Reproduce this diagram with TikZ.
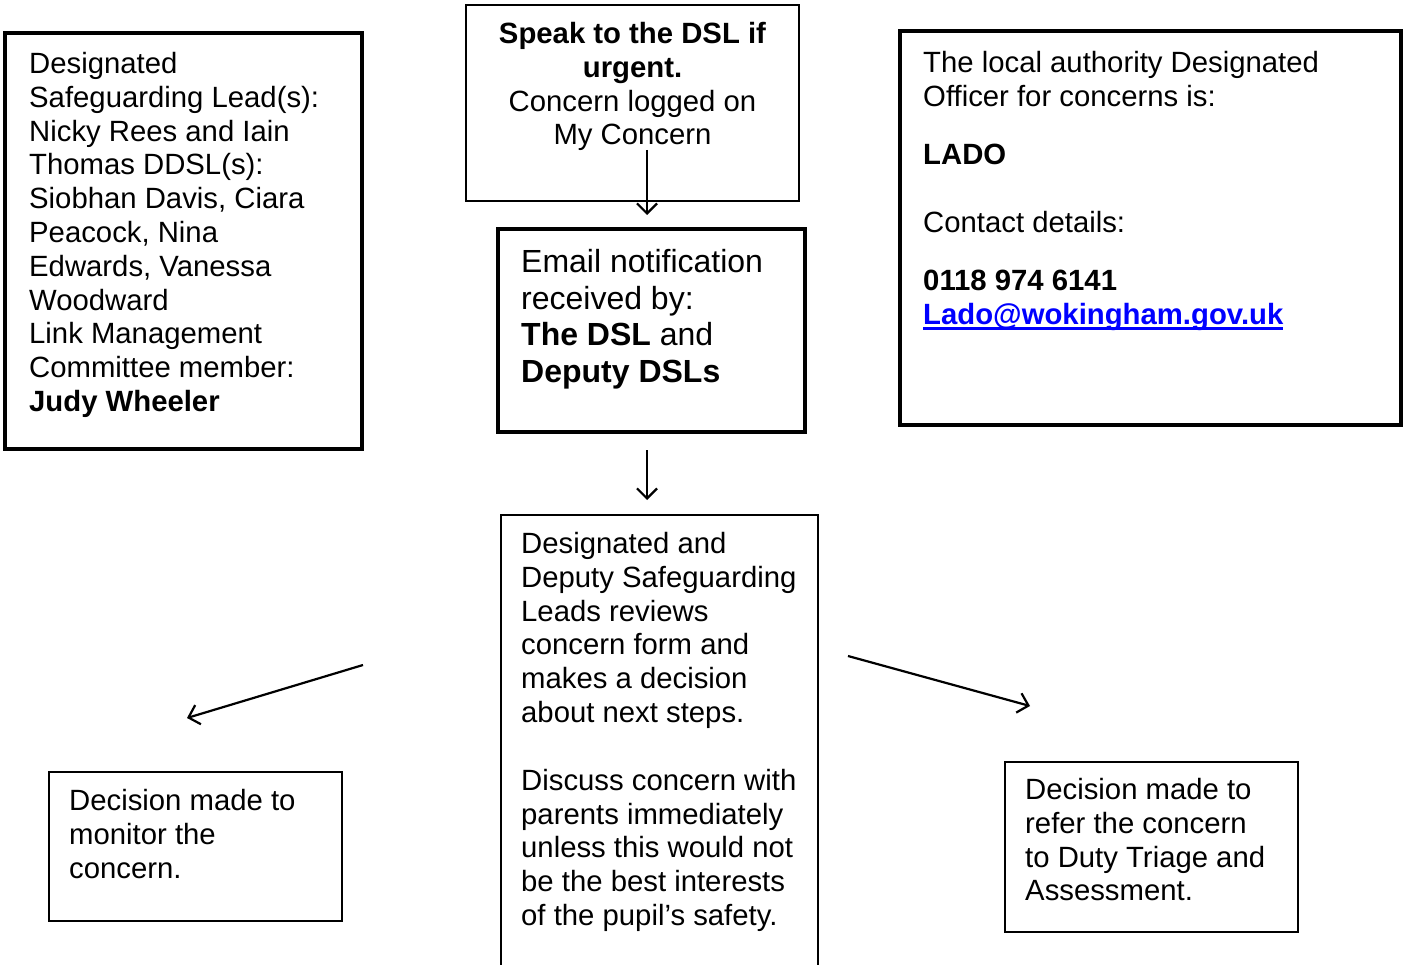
\documentclass[tikz,border=0pt]{standalone}
\usepackage{fontspec}
\setmainfont{Liberation Sans}
\usetikzlibrary{arrows.meta}
\newcommand\myul[1]{\setbox0\hbox{#1}\rlap{\rule[-6pt]{\wd0}{2.6pt}}\box0}
\begin{document}
\begin{tikzpicture}[x=1pt,y=-1pt,
  thinbox/.style={draw, line width=1.2pt, inner sep=0pt, outer sep=0pt, anchor=north west},
  thickbox/.style={draw, line width=4.5pt, inner sep=0pt, outer sep=0pt, anchor=north west},
  txt/.style={anchor=north west, inner sep=0pt, align=left, font=\fontsize{29.3}{33.8}\selectfont},
  bigtxt/.style={anchor=north west, inner sep=0pt, align=left, font=\fontsize{32}{36.7}\selectfont},
  arr/.style={-{Straight Barb[length=10pt,width=20pt]}, line width=2.2pt}]
\clip (0,0) rectangle (1403,965);
\fill[white] (0,0) rectangle (1403,965);
% boxes
\node[thickbox, minimum width=357pt, minimum height=416pt] (dsl) at (5,33) {};
\node[thinbox, minimum width=333pt, minimum height=196pt] (speak) at (466,5) {};
\node[thickbox, minimum width=307pt, minimum height=203pt] (email) at (498,229) {};
\node[thickbox, minimum width=501pt, minimum height=394pt] (lado) at (900,31) {};
\node[thinbox, minimum width=317pt, minimum height=500pt] (review) at (501,515) {};
\node[thinbox, minimum width=293pt, minimum height=149pt] (monitor) at (49,772) {};
\node[thinbox, minimum width=293pt, minimum height=170pt] (refer) at (1005,762) {};
% texts
\node[txt] (dsltxt) at (29,52) {Designated\\Safeguarding Lead(s):\\Nicky Rees and Iain\\Thomas DDSL(s):\\Siobhan Davis, Ciara\\Peacock, Nina\\Edwards, Vanessa\\Woodward\\Link Management\\Committee member:\\\textbf{Judy Wheeler}};
\node[txt, align=center, anchor=north] (speaktxt) at (632.5,22) {\textbf{Speak to the DSL if}\\\textbf{urgent.}\\Concern logged on\\My Concern};
\node[bigtxt] (emailtxt) at (521,249) {Email notification\\received by:\\\textbf{The DSL} and\\\textbf{Deputy DSLs}};
\node[txt] (ladotxt) at (923,51) {The local authority Designated\\Officer for concerns is:\\[24.2pt]\textbf{LADO}\\[34.2pt]Contact details:\\[24.2pt]\textbf{0118 974 6141}\\\textcolor{blue}{\myul{\textbf{Lado@wokingham.gov.uk}}}};
\node[txt] (reviewtxt) at (521,532) {Designated and\\Deputy Safeguarding\\Leads reviews\\concern form and\\makes a decision\\about next steps.\\[34pt]Discuss concern with\\parents immediately\\unless this would not\\be the best interests\\of the pupil’s safety.};
\node[txt] (monitortxt) at (69,789) {Decision made to\\monitor the\\concern.};
\node[txt] (refertxt) at (1025,778) {Decision made to\\refer the concern\\to Duty Triage and\\Assessment.};
% arrows
\coordinate (a1s) at (647,150); \coordinate (a1e) at (647,215);
\coordinate (a2s) at (647,450); \coordinate (a2e) at (647,500);
\coordinate (a3s) at (363,665); \coordinate (a3e) at (187,718);
\coordinate (a4s) at (848,656); \coordinate (a4e) at (1030,706);
\draw[arr] (a1s) -- (a1e);
\draw[arr] (a2s) -- (a2e);
\draw[arr] (a3s) -- (a3e);
\draw[arr] (a4s) -- (a4e);
\end{tikzpicture}
\end{document}
